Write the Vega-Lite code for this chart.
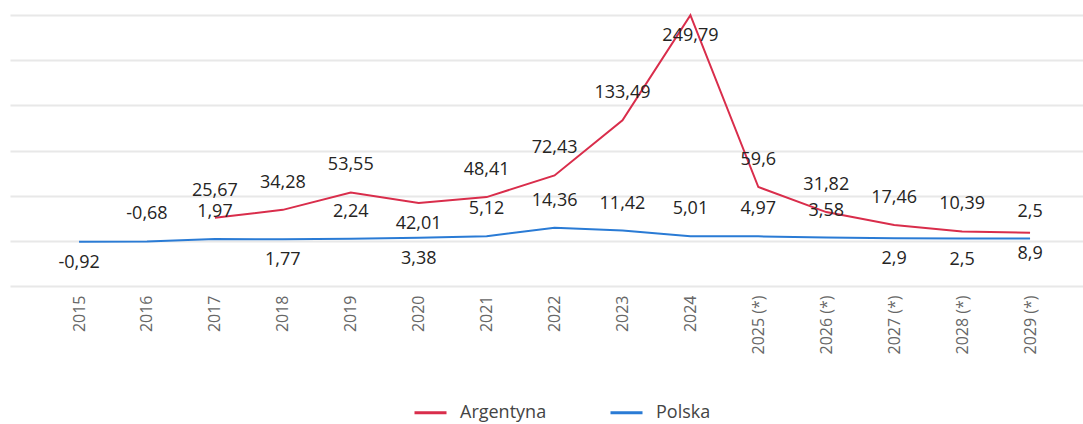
{
  "$schema": "https://vega.github.io/schema/vega-lite/v6.json",
  "autosize": "none",
  "padding": {"top": 15, "left": 10, "right": 0, "bottom": 138},
  "width": 1073,
  "height": 271,
  "config": {
    "view": {"stroke": null},
    "font": "Open Sans",
    "locale": {"number": {"decimal": ",", "thousands": " ", "grouping": [3], "currency": ["", " zł"], "minus": "-"}}
  },
  "data": {
    "values": [
      {"rok": "2015", "kraj": "Polska", "wartosc": -0.92},
      {"rok": "2016", "kraj": "Polska", "wartosc": -0.68},
      {"rok": "2017", "kraj": "Polska", "wartosc": 1.97},
      {"rok": "2018", "kraj": "Polska", "wartosc": 1.77},
      {"rok": "2019", "kraj": "Polska", "wartosc": 2.24},
      {"rok": "2020", "kraj": "Polska", "wartosc": 3.38},
      {"rok": "2021", "kraj": "Polska", "wartosc": 5.12},
      {"rok": "2022", "kraj": "Polska", "wartosc": 14.36},
      {"rok": "2023", "kraj": "Polska", "wartosc": 11.42},
      {"rok": "2024", "kraj": "Polska", "wartosc": 5.01},
      {"rok": "2025 (*)", "kraj": "Polska", "wartosc": 4.97},
      {"rok": "2026 (*)", "kraj": "Polska", "wartosc": 3.58},
      {"rok": "2027 (*)", "kraj": "Polska", "wartosc": 2.9},
      {"rok": "2028 (*)", "kraj": "Polska", "wartosc": 2.5},
      {"rok": "2029 (*)", "kraj": "Polska", "wartosc": 2.5},
      {"rok": "2017", "kraj": "Argentyna", "wartosc": 25.67},
      {"rok": "2018", "kraj": "Argentyna", "wartosc": 34.28},
      {"rok": "2019", "kraj": "Argentyna", "wartosc": 53.55},
      {"rok": "2020", "kraj": "Argentyna", "wartosc": 42.01},
      {"rok": "2021", "kraj": "Argentyna", "wartosc": 48.41},
      {"rok": "2022", "kraj": "Argentyna", "wartosc": 72.43},
      {"rok": "2023", "kraj": "Argentyna", "wartosc": 133.49},
      {"rok": "2024", "kraj": "Argentyna", "wartosc": 249.79},
      {"rok": "2025 (*)", "kraj": "Argentyna", "wartosc": 59.6},
      {"rok": "2026 (*)", "kraj": "Argentyna", "wartosc": 31.82},
      {"rok": "2027 (*)", "kraj": "Argentyna", "wartosc": 17.46},
      {"rok": "2028 (*)", "kraj": "Argentyna", "wartosc": 10.39},
      {"rok": "2029 (*)", "kraj": "Argentyna", "wartosc": 8.9}
    ]
  },
  "encoding": {
    "x": {
      "field": "rok",
      "type": "ordinal",
      "scale": {"type": "point", "padding": 0.898, "align": 0.566},
      "axis": {
        "title": null,
        "labelAngle": -90,
        "labelFontSize": 16,
        "labelColor": "#666666",
        "labelPadding": 9,
        "ticks": false,
        "domain": false,
        "grid": false
      }
    },
    "y": {
      "field": "wartosc",
      "type": "quantitative",
      "scale": {"domain": [-50, 250], "nice": false, "zero": false},
      "axis": {
        "title": null,
        "labels": false,
        "ticks": false,
        "domain": false,
        "grid": true,
        "gridColor": "#e8e8e8",
        "gridWidth": 2,
        "values": [-50, 0, 50, 100, 150, 200, 250]
      }
    }
  },
  "layer": [
    {
      "mark": {"type": "line", "strokeWidth": 2},
      "encoding": {
        "color": {
          "field": "kraj",
          "type": "nominal",
          "scale": {"domain": ["Argentyna", "Polska"], "range": ["#d92d4b", "#2a7bd5"]},
          "legend": {
            "title": null,
            "orient": "none",
            "direction": "horizontal",
            "legendX": 403,
            "legendY": 380,
            "symbolType": "stroke",
            "symbolStrokeWidth": 3,
            "symbolSize": 1024,
            "labelFontSize": 18,
            "labelColor": "#444444",
            "labelOffset": 12,
            "columnPadding": 57
          }
        }
      }
    },
    {
      "transform": [{"filter": "!((datum.kraj=='Polska' && indexof(['2015','2018','2020','2027 (*)','2028 (*)'], datum.rok) >= 0) || (datum.kraj=='Argentyna' && indexof(['2020','2024','2029 (*)'], datum.rok) >= 0))"}],
      "mark": {"type": "text", "dy": -27, "fontSize": 18, "color": "#252423", "baseline": "middle"},
      "encoding": {"text": {"field": "wartosc", "type": "quantitative", "format": ".2~f"}}
    },
    {
      "transform": [{"filter": "(datum.kraj=='Polska' && indexof(['2015','2018','2020','2027 (*)','2028 (*)'], datum.rok) >= 0) || (datum.kraj=='Argentyna' && indexof(['2020','2024','2029 (*)'], datum.rok) >= 0)"}],
      "mark": {"type": "text", "dy": 21, "fontSize": 18, "color": "#252423", "baseline": "middle"},
      "encoding": {"text": {"field": "wartosc", "type": "quantitative", "format": ".2~f"}}
    }
  ]
}
